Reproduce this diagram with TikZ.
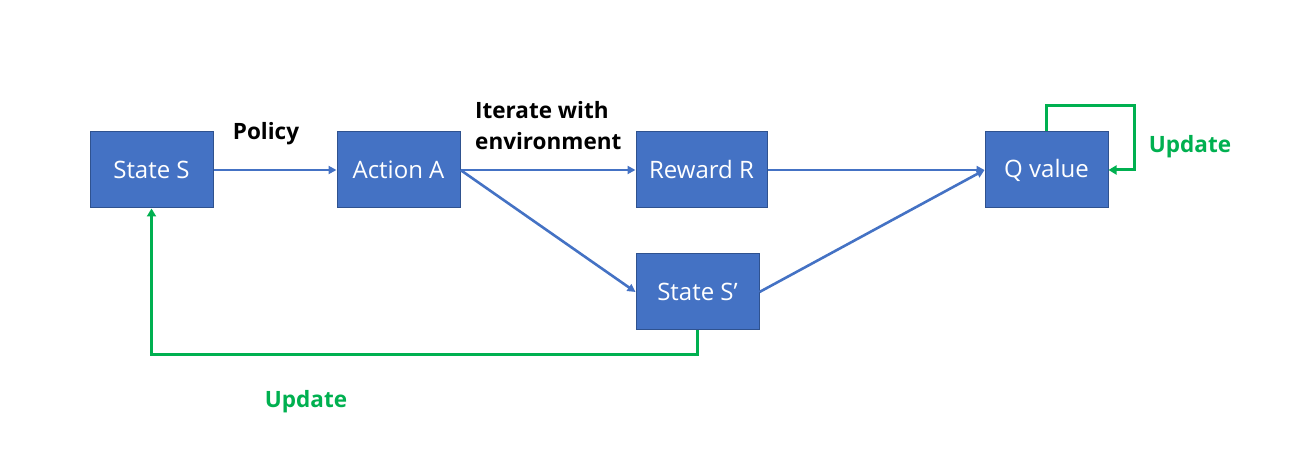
\documentclass[tikz,border=0pt]{standalone}
\usepackage{fontspec}
\setmainfont{Open Sans}
\usetikzlibrary{arrows.meta}
\definecolor{boxblue}{HTML}{4472C4}
\definecolor{boxedge}{HTML}{2F528F}
\definecolor{updgreen}{HTML}{00B050}
\begin{document}
\begin{tikzpicture}[x=1pt,y=1pt,
  box/.style={draw=boxedge,line width=1pt,fill=boxblue,text=white,minimum height=76pt,inner sep=0pt,font=\fontsize{24}{27}\selectfont},
  flow/.style={draw=boxblue,line width=2.6pt,-{Triangle[length=8pt,width=8pt]}},
  upd/.style={draw=updgreen,line width=3pt,-{Triangle[length=8pt,width=9pt]}},
  lbl/.style={font=\bfseries\fontsize{22.5}{31}\selectfont,inner sep=0pt},
  ]
\useasboundingbox (0,0) rectangle (1306,462);
\node[box,minimum width=123pt] (s) at (151.5,292) {State S};
\node[box,minimum width=123pt] (a) at (398.5,292) {Action A};
\node[box,minimum width=131pt] (r) at (701.5,292) {Reward R};
\node[box,minimum width=123pt] (q) at (1046.5,292) {Q value};
\node[box,minimum width=123pt] (sp) at (697.5,170) {State S’};
\draw[flow] (s.east) -- (a.west);
\draw[flow] (a.east) -- (r.west);
\draw[flow] (a.east) -- (sp.west);
\draw[flow] (r.east) -- (q.west);
\draw[flow] (sp.east) -- (q.west);
\coordinate (c1) at (697.5,107);
\coordinate (c2) at (151.5,107);
\draw[upd] (sp.south) -- (c1) -- (c2) -- (s.south);
\coordinate (d1) at (1046.5,356);
\coordinate (d2) at (1134,356);
\coordinate (d3) at (1134,292);
\draw[upd] (q.north) -- (d1) -- (d2) -- (d3) -- (q.east);
\node[lbl] (pol) at (266,328) {Policy};
\node[lbl,align=left,anchor=west] (it) at (475,336) {Iterate with\\environment};
\node[lbl,text=updgreen] (u1) at (1190,315) {Update};
\node[lbl,text=updgreen] (u2) at (306,60) {Update};
\end{tikzpicture}
\end{document}
